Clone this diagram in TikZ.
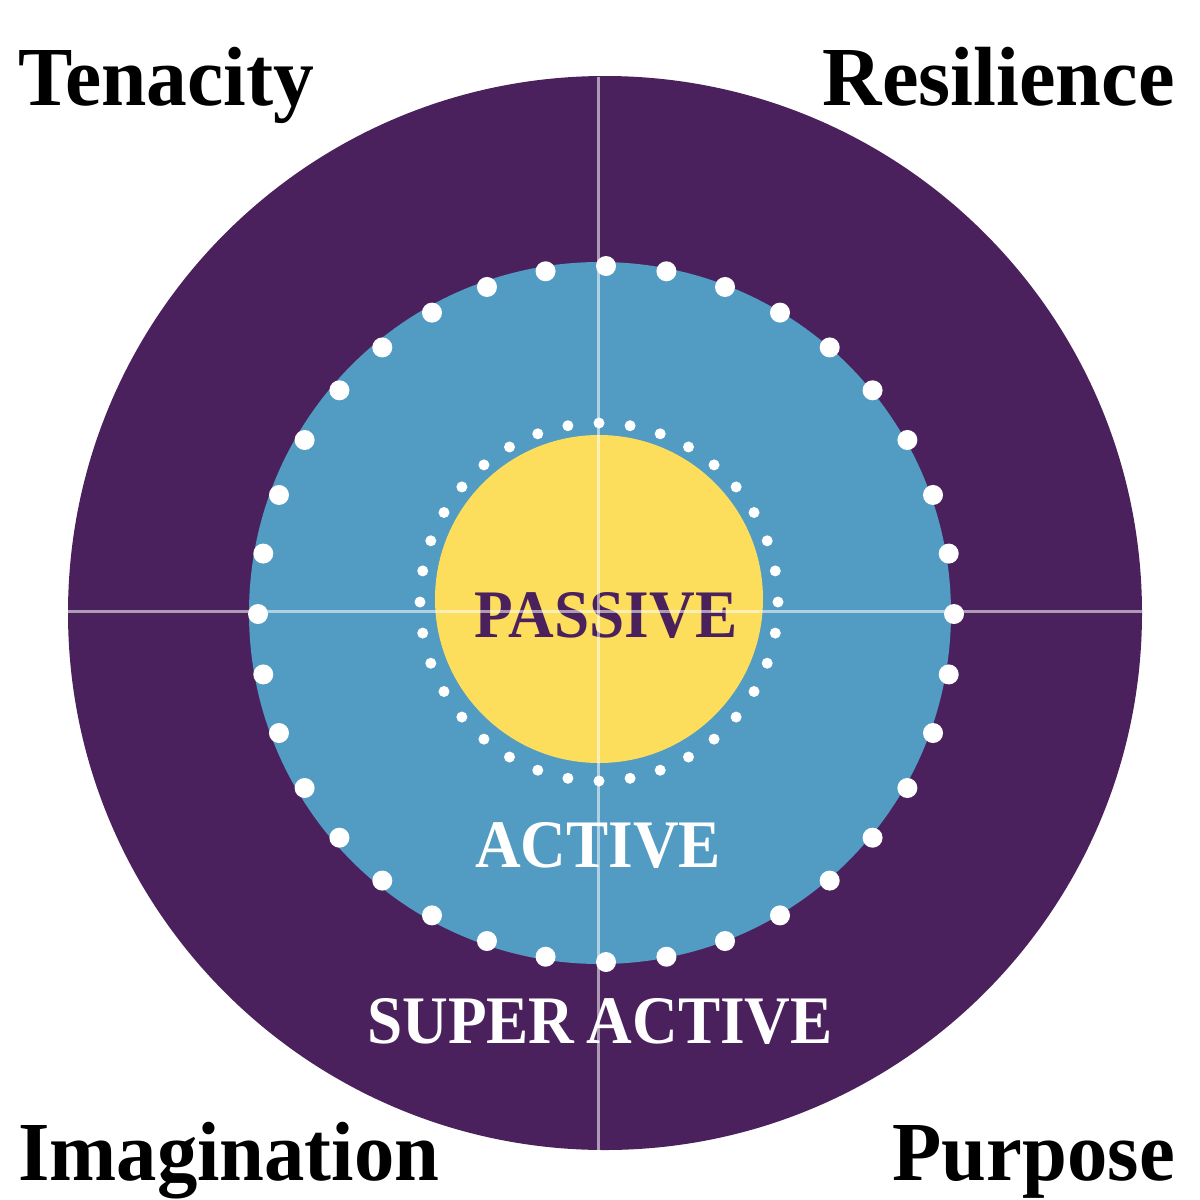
\documentclass[tikz,border=0pt]{standalone}
\usepackage{fontspec}
\usepackage{graphicx}
\usetikzlibrary{calc}
\setmainfont{Liberation Serif}
\definecolor{ringpurple}{RGB}{75,33,93}
\definecolor{ringblue}{RGB}{82,155,194}
\definecolor{coreyellow}{RGB}{253,221,92}
\tikzset{
  cornerlabel/.style={inner sep=0pt, font=\bfseries\fontsize{84}{90}\selectfont, text=black},
  ringlabel/.style={inner sep=0pt, font=\bfseries\fontsize{68}{72}\selectfont},
  axisline/.style={draw=white, draw opacity=0.55, line width=3pt},
}
\begin{document}
\begin{tikzpicture}[x=1pt,y=-1pt]
\useasboundingbox[fill=white] (0,0) rectangle (1200,1200);
% rings
\fill[ringpurple] (605,613) circle[radius=537pt];
\fill[ringblue] (600,613) circle[radius=351pt];
\fill[coreyellow] (599,599) circle[radius=164pt];
% dots
\foreach \a in {0,10,...,350}{
  \fill[white] ($(606,614)+(\a:348pt)$) circle[radius=10pt];
  \fill[white] ($(599,602)+(\a:179pt)$) circle[radius=5.5pt];
}
% labels
\node[ringlabel, text=ringpurple, anchor=base] (passive) at (606,637) {\scalebox{0.93}[1]{PASSIVE}};
\node[ringlabel, text=white, anchor=base] (active) at (598,867) {\scalebox{0.93}[1]{ACTIVE}};
\node[ringlabel, text=white, anchor=base] (superactive) at (600,1043) {\scalebox{0.93}[1]{SUPER\kern-4pt\ ACTIVE}};
\node[cornerlabel, anchor=base west] (tenacity) at (18,105) {\scalebox{0.97}[1]{Tenacity}};
\node[cornerlabel, anchor=base east] (resilience) at (1175,105) {\scalebox{0.98}[1]{Resilience}};
\node[cornerlabel, anchor=base west] (imagination) at (18,1180) {\scalebox{0.96}[1]{Imagination}};
\node[cornerlabel, anchor=base east] (purpose) at (1175,1180) {\scalebox{0.96}[1]{Purpose}};
% axes
\coordinate (axl) at (68,611);
\coordinate (axr) at (1142,611);
\coordinate (axt) at (598,77);
\coordinate (axb) at (598,1150);
\draw[axisline] (axl) -- (axr);
\draw[axisline] (axt) -- (axb);
\end{tikzpicture}
\end{document}
